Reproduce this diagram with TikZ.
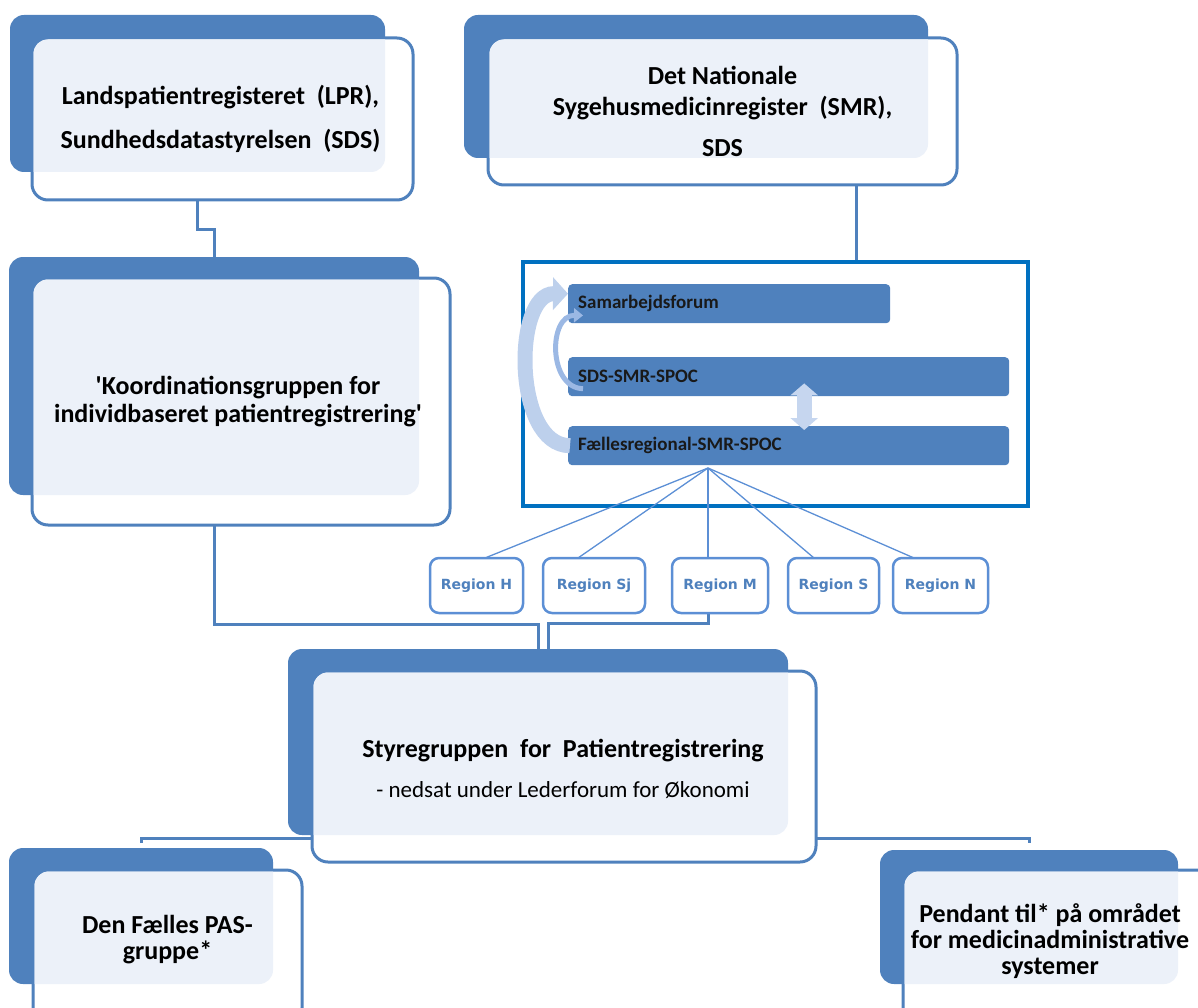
\documentclass[tikz,border=0pt]{standalone}
\usepackage{fontspec}
\setmainfont{Carlito}
\newfontfamily\regionfont{DejaVu Sans}
\usetikzlibrary{arrows.meta,backgrounds}

\definecolor{cardblue}{HTML}{4F81BD}
\definecolor{cardlight}{HTML}{ECF1F9}
\definecolor{regionblue}{HTML}{5C8FD5}
\definecolor{frameblue}{HTML}{0070C0}
\definecolor{turnblue}{HTML}{BDD0EC}
\definecolor{smallturnblue}{HTML}{9BB8E4}
\definecolor{swapblue}{HTML}{C6D6EF}

\tikzset{
  backcard/.style={fill=cardblue, rounded corners=14pt, inner sep=0pt, outer sep=0pt},
  frontcard/.style={fill=white, draw=cardblue, line width=3pt, rounded corners=16pt, inner sep=0pt, outer sep=0pt},
  cardtext/.style={align=center, font=\bfseries\fontsize{26}{26}\selectfont},
  link/.style={draw=cardblue, line width=3pt},
  bar/.style={fill=cardblue, rounded corners=4pt, anchor=north west, inner xsep=10pt, inner ysep=0pt, minimum height=39pt, align=left, font=\bfseries\fontsize{19}{22}\selectfont, text=black!90},
  regionbox/.style={draw=regionblue, fill=white, line width=2.5pt, rounded corners=9pt, minimum height=55pt, inner sep=0pt, outer sep=0pt, font=\regionfont\bfseries\fontsize{14}{16}\selectfont, text=cardblue},
  fan/.style={draw=regionblue, line width=1.3pt},
  turnarrow/.style={draw=turnblue, line width=15pt, -{Triangle[length=15pt,width=32pt]}},
  smallturn/.style={draw=smallturnblue, line width=5pt, -{Triangle[length=9pt,width=14pt]}},
  swaparrow/.style={draw=swapblue, line width=15pt, {Triangle[length=12pt,width=27pt]}-{Triangle[length=12pt,width=27pt]}},
}

% light part of a card, where the front overlaps the back
\newcommand{\cardshade}[2]{%
  \begin{scope}
    \clip[rounded corners=14pt] (#1.north west) rectangle (#1.south east);
    \fill[cardlight, rounded corners=14pt] ([shift={(1.5,1.5)}]#2.north west) rectangle ([shift={(-1.5,-1.5)}]#2.south east);
  \end{scope}}

\begin{document}
\begin{tikzpicture}[x=1pt,y=-1pt]
  \useasboundingbox (0,0) rectangle (1198,1008);

  % LPR card
  \node[backcard, minimum width=375pt, minimum height=157pt] (lprback) at (197.5,93.5) {};
  \node[frontcard, minimum width=381pt, minimum height=162pt] (lpr) at (222.5,119) {};
  \cardshade{lprback}{lpr}
  \node[cardtext] (lprtext) at ([xshift=-2pt]lpr.center) {Landspatientregisteret\ \ (LPR),\\[18pt]Sundhedsdatastyrelsen\ \ (SDS)};

  % SMR card
  \node[backcard, minimum width=464pt, minimum height=143pt] (smrback) at (696,86.5) {};
  \node[frontcard, minimum width=469pt, minimum height=147pt] (smr) at (722.5,111.5) {};
  \cardshade{smrback}{smr}
  \node[cardtext] (smrtext) at (smr.center) {Det Nationale\\[5pt]Sygehusmedicinregister\ \ (SMR),\\[15pt]SDS};

  % Koordinationsgruppen card
  \node[backcard, minimum width=410pt, minimum height=238pt] (koordback) at (214,376) {};
  \node[frontcard, minimum width=418pt, minimum height=247pt] (koord) at (241,401.5) {};
  \cardshade{koordback}{koord}
  \node[cardtext] (koordtext) at ([xshift=-3pt]koord.center) {\textquotesingle Koordinationsgruppen for\\[2pt]individbaseret patientregistrering\textquotesingle};

  % Styregruppen card
  \node[backcard, minimum width=500pt, minimum height=186pt] (styreback) at (538,742) {};
  \node[frontcard, minimum width=504pt, minimum height=191pt] (styre) at (564,766.5) {};
  \cardshade{styreback}{styre}
  \node[cardtext, font=\bfseries\fontsize{26}{26}\selectfont] (styretext) at ([xshift=-1pt,yshift=-2pt]styre.center)
    {Styregruppen\ \ for\ \ Patientregistrering\\[14pt]{\mdseries\fontsize{23}{26}\selectfont - nedsat under Lederforum for Økonomi}};

  % PAS card
  \node[backcard, minimum width=264pt, minimum height=136pt] (pasback) at (141,916) {};
  \node[frontcard, minimum width=269pt, minimum height=154pt] (pas) at (167.5,947) {};
  \cardshade{pasback}{pas}
  \node[cardtext] (pastext) at ([yshift=7pt]pas.center) {Den Fælles PAS-\\gruppe*};

  % medicin card
  \node[backcard, minimum width=298pt, minimum height=134pt] (pendback) at (1029,917) {};
  \node[frontcard, minimum width=312pt, minimum height=154pt] (pend) at (1059,947) {};
  \cardshade{pendback}{pend}
  \node[cardtext] (pendtext) at ([xshift=-9pt,yshift=6pt]pend.center) {Pendant til* på området\\for medicinadministrative\\systemer};

  % SMR frame with the three bars
  \node[draw=frameblue, line width=3.5pt, minimum width=505pt, minimum height=244pt, inner sep=0pt, outer sep=0pt] (smrframe) at (775.5,384) {};
  \node[bar, text width=302pt] (sam) at (568,284) {Samarbejdsforum};
  \node[bar, text width=421pt] (sds) at (568,357) {SDS-SMR-SPOC};
  \node[bar, text width=421pt] (fael) at (568,426) {Fællesregional-SMR-SPOC};
  \draw[turnarrow] ([xshift=2pt]fael.west) .. controls (513,445.5) and (513,293.5) .. ([yshift=10pt]sam.west);
  \draw[smallturn] ([xshift=15pt,yshift=-12pt]sds.west) .. controls (548,388) and (548,315) .. ([xshift=15pt,yshift=8pt]sam.south west);
  \draw[swaparrow] ([xshift=15.5pt,yshift=13pt]sds.south) -- ([xshift=15.5pt,yshift=-4pt]fael.north);

  % regions
  \node[regionbox, minimum width=93pt] (regH) at (476.5,585.5) {Region H};
  \node[regionbox, minimum width=102pt] (regSj) at (594,585.5) {Region Sj};
  \node[regionbox, minimum width=96pt] (regM) at (720,585.5) {Region M};
  \node[regionbox, minimum width=91pt] (regS) at (833.5,585.5) {Region S};
  \node[regionbox, minimum width=95pt] (regN) at (940.5,585.5) {Region N};
  \coordinate (fanroot) at (708,468);
  \foreach \reg/\dx in {regH/8.5, regSj/-16, regM/-12, regS/-19.5, regN/-26.5}
    \draw[fan] (fanroot) -- ([xshift=\dx pt]\reg.north);

  % connectors behind the cards
  \begin{scope}[on background layer]
    \draw[link] (lprback.south) -- ++(0,58) -| (koordback.north);
    \coordinate (smrdrop) at ([xshift=80.5pt]smrframe.north);
    \draw[link] (smrdrop) -- (smrdrop |- smr.south);
    \draw[link] (koordback.south) -- ++(0,129) -| (styreback.north);
    \draw[link] ([xshift=-12pt]regM.south) -- ++(0,10) -| ([xshift=10pt]styreback.north);
    \draw[link, shorten <=5pt, shorten >=7pt] (pasback.north) -- ++(0,-10) -| (pendback.north);
  \end{scope}
\end{tikzpicture}
\end{document}
